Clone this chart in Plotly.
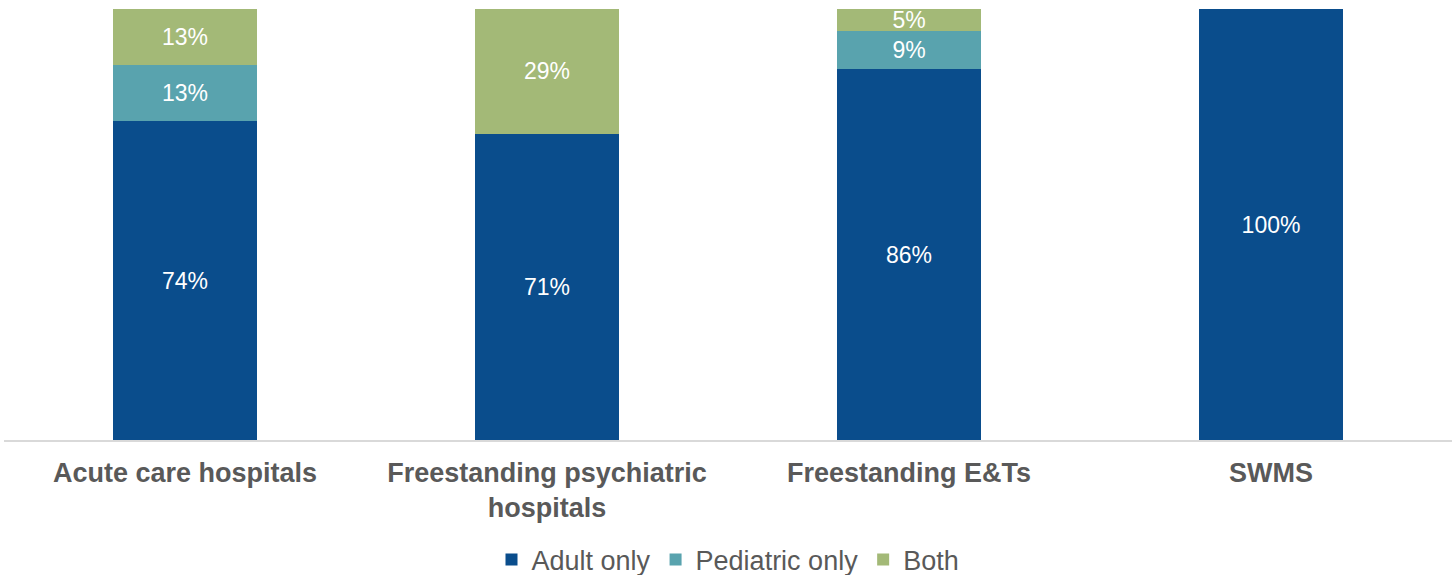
import plotly.graph_objects as go

categories = ["Acute care hospitals", "Freestanding psychiatric<br>hospitals", "Freestanding E&Ts", "SWMS"]
adult_only = [74, 71, 86, 100]
pediatric_only = [13, 0, 9, 0]
both = [13, 29, 5, 0]

series = [
    ("Adult only", adult_only, "#0a4d8c"),
    ("Pediatric only", pediatric_only, "#59a3ae"),
    ("Both", both, "#a3b977"),
]

FONT = "Liberation Sans, Arial, sans-serif"

fig = go.Figure()
for name, vals, color in series:
    fig.add_trace(go.Bar(
        name=name,
        x=categories,
        y=vals,
        marker=dict(color=color, line=dict(width=0)),
        text=[f"{v}%" if v > 0 else "" for v in vals],
        textposition="inside",
        insidetextanchor="middle",
        constraintext="none",
        textfont=dict(family=FONT, size=23, color="white"),
        hoverinfo="skip",
    ))

fig.update_layout(
    barmode="stack",
    bargap=0.6,
    width=1452,
    height=575,
    margin=dict(l=4, r=0, t=9, b=135, autoexpand=False),
    paper_bgcolor="white",
    plot_bgcolor="white",
    font=dict(family=FONT, color="#595959"),
    showlegend=True,
    legend=dict(
        orientation="h",
        x=0.5, xanchor="center",
        yref="container",
        y=0.026, yanchor="middle",
        font=dict(family=FONT, size=27, color="#595959"),
        traceorder="normal",
        itemsizing="constant",
    ),
    xaxis=dict(
        automargin=False,
        showline=True,
        linecolor="#d9d9d9",
        linewidth=1.5,
        ticks="outside",
        ticklen=8,
        tickcolor="rgba(0,0,0,0)",
        tickfont=dict(family=FONT, size=27, color="#595959", weight="bold"),
        showgrid=False,
    ),
    yaxis=dict(
        range=[0, 100],
        visible=False,
        showgrid=False,
        automargin=False,
    ),
)

fig.write_html("out.html")
